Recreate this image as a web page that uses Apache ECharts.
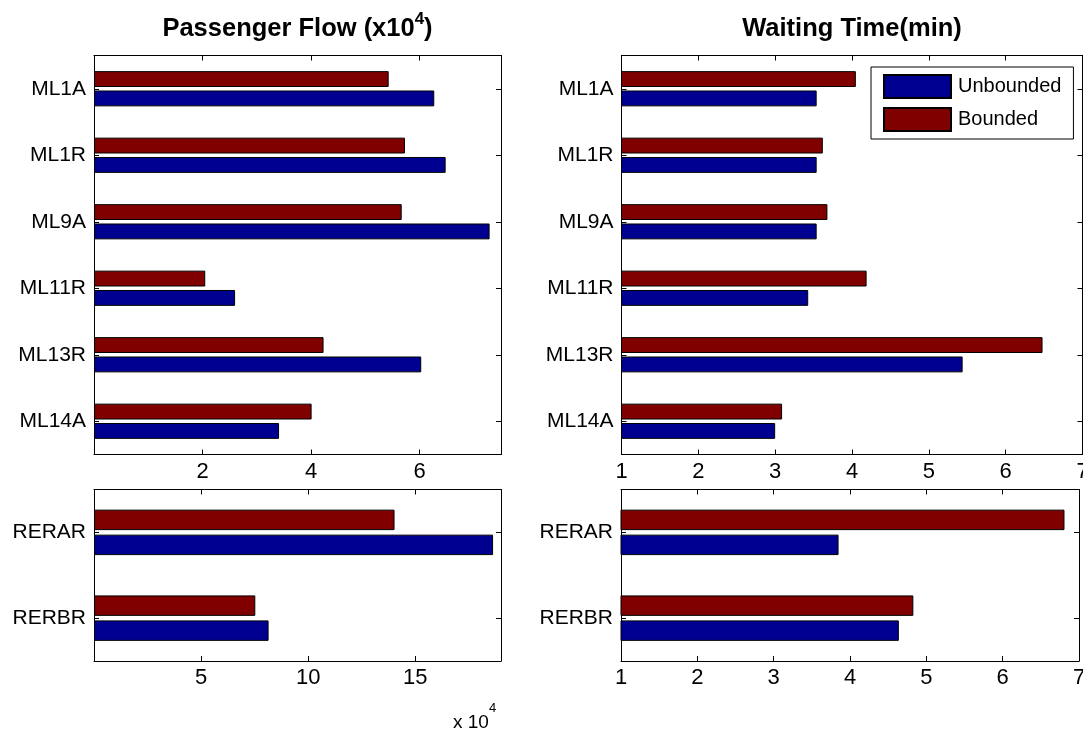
<!DOCTYPE html>
<html><head><meta charset="utf-8">
<script src="https://cdn.jsdelivr.net/npm/echarts@6/dist/echarts.min.js"></script>
<style>html,body{margin:0;padding:0;background:#fff}#c{width:1083px;height:729px}</style>
</head><body><div id="c"></div>
<script>
// ---- data ----
const categoriesTop = ['ML1A', 'ML1R', 'ML9A', 'ML11R', 'ML13R', 'ML14A'];
const categoriesBottom = ['RERAR', 'RERBR'];
const flowUnboundedTop = [6.27, 6.48, 7.29, 2.60, 6.03, 3.41];
const flowBoundedTop   = [5.43, 5.73, 5.67, 2.05, 4.23, 4.01];
const waitUnboundedTop = [3.54, 3.54, 3.54, 3.43, 5.44, 3.00];
const waitBoundedTop   = [4.05, 3.62, 3.68, 4.19, 6.48, 3.09];
const flowUnboundedBottom = [18.63, 8.15];
const flowBoundedBottom   = [14.03, 7.53];
const waitUnboundedBottom = [3.85, 4.64];
const waitBoundedBottom   = [6.81, 4.83];
const flowTopTicks = [2, 4, 6];
const flowBottomTicks = [5, 10, 15];
const waitTicks = [1, 2, 3, 4, 5, 6, 7];
const seriesNames = ['Unbounded', 'Bounded'];

// ---- chart ----
const FONT = "'Liberation Sans', Arial, Helvetica, sans-serif";
const BLUE = '#000090', RED = '#800000';
const chart = echarts.init(document.getElementById('c'));

const panels = [
  { grid: {left: 94, top: 55.5, width: 407, height: 399}, cats: categoriesTop, min: 0, max: 7.5, interval: 2, ticks: flowTopTicks,
    unb: flowUnboundedTop, bnd: flowBoundedTop, title: '{t|Passenger Flow (x10}{s|4}{t|)}' },
  { grid: {left: 621.5, top: 55.5, width: 461, height: 399}, cats: categoriesTop, min: 1, max: 7, interval: 1, ticks: waitTicks,
    unb: waitUnboundedTop, bnd: waitBoundedTop, title: '{t|Waiting Time(min)}' },
  { grid: {left: 94, top: 489.5, width: 407, height: 171.5}, cats: categoriesBottom, min: 0, max: 19, interval: 5, ticks: flowBottomTicks,
    unb: flowUnboundedBottom, bnd: flowBoundedBottom, title: '' },
  { grid: {left: 621, top: 489.5, width: 458, height: 171.5}, cats: categoriesBottom, min: 1, max: 7, interval: 1, ticks: waitTicks,
    unb: waitUnboundedBottom, bnd: waitBoundedBottom, title: '' }
];

const grid = [], xAxis = [], yAxis = [], series = [];
const line = {show: true, onZero: false, lineStyle: {color: '#000', width: 1}};
panels.forEach((p, i) => {
  grid.push(Object.assign({containLabel: false, outerBoundsMode: 'none'}, p.grid));
  const base = {
    gridIndex: i, type: 'value', min: p.min, max: p.max, interval: p.interval,
    axisLine: line, splitLine: {show: false},
    axisTick: {show: true, inside: true, length: 5, lineStyle: {color: '#000', width: 1}}
  };
  xAxis.push(Object.assign({}, base, {
    position: 'bottom',
    axisLabel: {show: true, fontSize: 22, color: '#000', fontFamily: FONT, margin: 6,
      formatter: v => (p.ticks.indexOf(Math.round(v * 1000) / 1000) >= 0 ? String(v) : '')}
  }));
  xAxis.push(Object.assign({}, base, {
    position: 'top', axisLabel: {show: false},
    name: p.title, nameLocation: 'middle', nameGap: 14,
    nameTextStyle: {rich: {
      t: {fontSize: 25.5, fontWeight: 'bold', lineHeight: 31, verticalAlign: 'bottom', color: '#000', fontFamily: FONT},
      s: {fontSize: 17, fontWeight: 'bold', lineHeight: 17, verticalAlign: 'top', color: '#000', fontFamily: FONT}
    }}
  }));
  const ybase = {
    gridIndex: i, type: 'category', data: p.cats, inverse: true,
    axisLine: line, splitLine: {show: false},
    axisTick: {show: true, inside: true, alignWithLabel: true, length: 5, lineStyle: {color: '#000', width: 1}}
  };
  yAxis.push(Object.assign({}, ybase, {
    position: 'left',
    axisLabel: {show: true, fontSize: 21, color: '#000', fontFamily: FONT, margin: 8}
  }));
  yAxis.push(Object.assign({}, ybase, {position: 'right', axisLabel: {show: false}}));
  const common = {type: 'bar', xAxisIndex: 2 * i, yAxisIndex: 2 * i, barCategoryGap: '47%', barGap: '22%', clip: true, silent: true};
  series.push(Object.assign({}, common, {name: seriesNames[1], data: p.bnd,
    itemStyle: {color: RED, borderColor: '#000', borderWidth: 1}}));
  series.push(Object.assign({}, common, {name: seriesNames[0], data: p.unb,
    itemStyle: {color: BLUE, borderColor: '#000', borderWidth: 1}}));
});

chart.setOption({
  animation: false,
  backgroundColor: '#fff',
  title: [{
    text: '{a|x 10}{b|4}', left: 453, top: 702, padding: 0, textAlign: 'left',
    textStyle: {fontWeight: 'normal', rich: {
      a: {fontSize: 19, fontWeight: 'normal', lineHeight: 30, verticalAlign: 'bottom', color: '#000', fontFamily: FONT},
      b: {fontSize: 13, fontWeight: 'normal', lineHeight: 13, verticalAlign: 'top', color: '#000', fontFamily: FONT}
    }}
  }],
  legend: {
    data: seriesNames, orient: 'vertical', left: 871, top: 67, icon: 'rect',
    itemWidth: 67, itemHeight: 23, itemGap: 8, padding: [7, 12, 7, 12],
    backgroundColor: '#fff', borderColor: '#000', borderWidth: 1, borderRadius: 0,
    selectedMode: false,
    textStyle: {fontSize: 20, color: '#000', fontFamily: FONT, padding: [0, 0, 0, 2]}
  },
  grid, xAxis, yAxis, series
});
</script></body></html>
